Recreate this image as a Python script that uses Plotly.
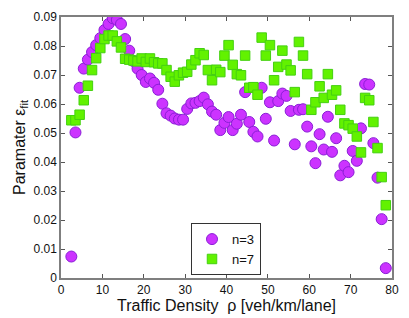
import plotly.graph_objects as go

density = [2.5, 3.5, 4.5, 5.5, 6.5, 7.5, 8.5, 9.5, 10.5, 11.5, 12.5, 13.5, 14.5, 15.5, 16.5,
           17.5, 18.5, 19.5, 20.5, 21.5, 22.5, 23.5, 24.5, 25.5, 26.5, 27.5, 28.5, 29.5, 30.5,
           31.5, 32.5, 33.5, 34.5, 35.5, 36.5, 37.5, 38.5, 39.5, 40.5, 41.5, 42.5, 43.5, 44.5,
           45.5, 46.5, 47.5, 48.5, 49.5, 50.5, 51.5, 52.5, 53.5, 54.5, 55.5, 56.5, 57.5, 58.5,
           59.5, 60.5, 61.5, 62.5, 63.5, 64.5, 65.5, 66.5, 67.5, 68.5, 69.5, 70.5, 71.5, 72.5,
           73.5, 74.5, 75.5, 76.5, 77.5, 78.5]

eps_n3 = [0.0074, 0.0502, 0.0656, 0.0722, 0.0753, 0.0779, 0.0803, 0.0827, 0.0855, 0.0876,
          0.0896, 0.0890, 0.0876, 0.0824, 0.0784, 0.0748, 0.0722, 0.0700, 0.0676, 0.0688,
          0.0673, 0.0649, 0.0601, 0.0568, 0.0560, 0.0550, 0.0546, 0.0546, 0.0583, 0.0602,
          0.0604, 0.0610, 0.0622, 0.0599, 0.0574, 0.0563, 0.0510, 0.0535, 0.0555, 0.0510,
          0.0532, 0.0563, 0.0641, 0.0538, 0.0504, 0.0488, 0.0656, 0.0549, 0.0606, 0.0474,
          0.0610, 0.0636, 0.0628, 0.0576, 0.0461, 0.0580, 0.0582, 0.0522, 0.0454, 0.0396,
          0.0496, 0.0443, 0.0556, 0.0435, 0.0482, 0.0354, 0.0387, 0.0365, 0.0438, 0.0404,
          0.0516, 0.0669, 0.0667, 0.0465, 0.0346, 0.0203, 0.0034]

eps_n7 = [0.0544, 0.0544, 0.0563, 0.0613, 0.0663, 0.0717, 0.0758, 0.0793, 0.0824, 0.0836,
          0.0836, 0.0816, 0.0795, 0.0756, 0.0753, 0.0750, 0.0747, 0.0757, 0.0745, 0.0757,
          0.0744, 0.0740, 0.0740, 0.0717, 0.0694, 0.0677, 0.0699, 0.0708, 0.0711, 0.0736,
          0.0751, 0.0775, 0.0769, 0.0717, 0.0682, 0.0718, 0.0710, 0.0767, 0.0803, 0.0735,
          0.0703, 0.0699, 0.0767, 0.0656, 0.0658, 0.0632, 0.0829, 0.0767, 0.0803, 0.0682,
          0.0728, 0.0784, 0.0736, 0.0716, 0.0641, 0.0814, 0.0767, 0.0703, 0.0580, 0.0606,
          0.0661, 0.0621, 0.0703, 0.0632, 0.0647, 0.0580, 0.0533, 0.0527, 0.0515, 0.0488,
          0.0433, 0.0621, 0.0613, 0.0538, 0.0448, 0.0348, 0.0251]

x_ticks = [0, 10, 20, 30, 40, 50, 60, 70, 80]
y_ticks = [0, 0.01, 0.02, 0.03, 0.04, 0.05, 0.06, 0.07, 0.08, 0.09]
y_tick_text = ["0", "0.01", "0.02", "0.03", "0.04", "0.05", "0.06", "0.07", "0.08", "0.09"]

FONT = "Liberation Sans, Arial, Helvetica, sans-serif"

fig = go.Figure()
fig.add_trace(go.Scatter(
    x=density, y=eps_n3, mode="markers", name="n=3",
    marker=dict(symbol="circle", size=11, color="#cc33ff",
                line=dict(color="#8a1fd6", width=1)),
))
fig.add_trace(go.Scatter(
    x=density, y=eps_n7, mode="markers", name="n=7",
    marker=dict(symbol="square", size=9.5, color="#62f200",
                line=dict(color="#44d010", width=1)),
))

axis_common = dict(
    showgrid=False, zeroline=False, showline=True, mirror="ticks",
    linecolor="#7f7f7f", linewidth=1.5, ticks="inside", ticklen=4,
    tickcolor="#555555", tickwidth=1,
    tickfont=dict(family=FONT, size=12, color="#111111"),
)

fig.update_layout(
    width=409, height=318,
    margin=dict(l=61, r=10, t=11, b=38),
    paper_bgcolor="white", plot_bgcolor="white",
    font=dict(family=FONT, color="#111111"),
    xaxis=dict(range=[0, 80], tickvals=x_ticks,
               title=dict(text="Traffic Density  ρ [veh/km/lane]",
                          font=dict(family=FONT, size=16), standoff=0),
               **axis_common),
    yaxis=dict(range=[0, 0.09], tickvals=y_ticks, ticktext=y_tick_text,
               title=dict(text="Paramater ε<sub>fit</sub>",
                          font=dict(family=FONT, size=16), standoff=4),
               **axis_common),
    legend=dict(x=0.4985, y=0.011, xanchor="center", yanchor="bottom",
                bgcolor="white", bordercolor="#333333", borderwidth=1,
                font=dict(family=FONT, size=13), itemwidth=30,
                tracegroupgap=0),
    showlegend=True,
)

fig.write_html("out.html", config={"displayModeBar": False},
               post_script="document.body.style.margin='0';")
